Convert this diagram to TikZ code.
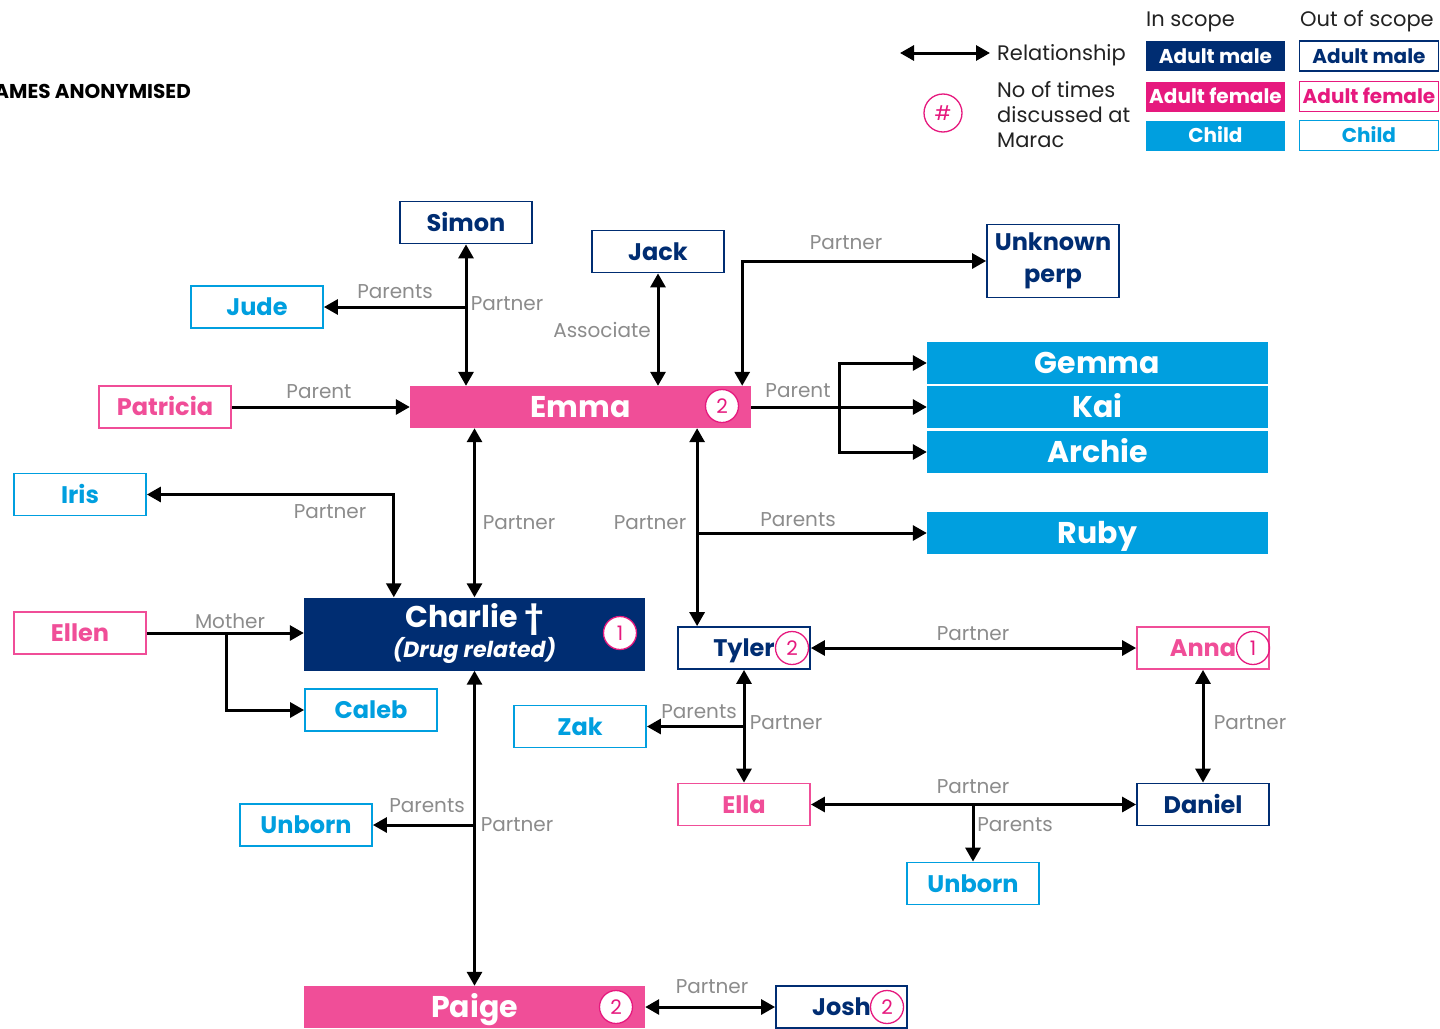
\documentclass[tikz,border=0pt]{standalone}
\usepackage{fontspec}
\setmainfont{Poppins}
\usetikzlibrary{arrows.meta,calc}
\definecolor{navy}{HTML}{002D72}
\definecolor{pinkF}{HTML}{F04E98}
\definecolor{pinkL}{HTML}{E6197E}
\definecolor{cyanC}{HTML}{009FDF}
\definecolor{grayL}{HTML}{8C8C8C}
\definecolor{inkT}{HTML}{222222}
\newcommand{\myfs}[1]{\fontsize{#1}{#1}\selectfont}
\newcommand{\myfsl}[2]{\fontsize{#1}{#2}\selectfont}
\tikzset{
  base/.style={rectangle, inner sep=0pt, minimum width=132pt, minimum height=42pt, font=\bfseries\myfs{24}, line width=1.8pt, text height=22pt, text depth=5pt},
  om/.style={base, draw=navy, text=navy, fill=white},
  of/.style={base, draw=pinkF, text=pinkF, fill=white},
  oc/.style={base, draw=cyanC, text=cyanC, fill=white},
  big/.style={rectangle, inner sep=0pt, minimum width=341pt, minimum height=42pt, text=white, font=\bfseries\myfs{30}, text height=27.6pt, text depth=6.6pt},
  fm/.style={big, fill=navy},
  ff/.style={big, fill=pinkF},
  fc/.style={big, fill=cyanC},
  badge/.style={circle, draw=pinkL, line width=1.3pt, fill=white, text=pinkL, minimum size=33pt, inner sep=0pt, font=\myfs{20}},
  badgeo/.style={badge, fill=none},
  lbl/.style={text=grayL, font=\myfs{20}, inner sep=1pt},
  conn/.style={line width=3pt, draw=black},
  arr/.style={conn, -{Triangle[length=14pt,width=15pt]}},
  dbl/.style={conn, {Triangle[length=14pt,width=15pt]}-{Triangle[length=14pt,width=15pt]}},
  legtxt/.style={text=inkT, font=\myfs{21}, inner sep=0pt, anchor=west, text height=19.3pt, text depth=4.6pt},
  legbox/.style={rectangle, inner sep=0pt, minimum width=139pt, minimum height=30pt, font=\bfseries\myfs{20}, line width=1.8pt, text height=18.4pt, text depth=4.4pt},
}
\begin{document}
\begin{tikzpicture}[x=1pt,y=-1pt]
\useasboundingbox (0,0) rectangle (1440,1028);
\clip (0,0) rectangle (1440,1028);
\fill[white] (0,0) rectangle (1440,1028);

% ---------- legend ----------
\node[text=black, font=\bfseries\myfs{20}, inner sep=0pt, anchor=east, text height=18.4pt, text depth=4.4pt] (title) at (191,91) {NAMES ANONYMISED};
\node[legtxt] (inscope) at (1146,19) {In scope};
\node[legtxt] (outscope) at (1300,19) {Out of scope};
\node[legtxt] (rel) at (997,53) {Relationship};
\draw[dbl] ([xshift=-97pt]rel.west) -- ([xshift=-7pt]rel.west);
\node[legtxt, align=left, font=\myfsl{21}{25}, text height={}, text depth={}] (noof) at (997,115) {No of times\\discussed at\\Marac};
\node[badgeo, minimum size=38pt] (hash) at (943,113) {\#};
\node[legbox, fill=navy, text=white] (lam) at (1215.5,56) {Adult male};
\node[legbox, fill=pinkL, text=white] (laf) at (1215.5,96.5) {Adult female};
\node[legbox, fill=cyanC, text=white] (lac) at (1215.5,135.5) {Child};
\node[legbox, draw=navy, text=navy] (lom) at (1369,56) {Adult male};
\node[legbox, draw=pinkL, text=pinkL] (lof) at (1369,96.5) {Adult female};
\node[legbox, draw=cyanC, text=cyanC] (loc) at (1369,135.5) {Child};

% ---------- people ----------
\node[om] (simon) at (466,222.5) {Simon};
\node[om] (jack) at (658,251.5) {Jack};
\node[om, minimum height=73pt, align=center, font=\bfseries\myfsl{24}{32}, text height={}, text depth={}] (perp) at (1053,261) {Unknown\\perp};
\node[oc] (jude) at (257,307) {Jude};
\node[of] (pat) at (165,407) {Patricia};
\node[ff] (emma) at (580.5,407) {Emma};
\node[fc] (gemma) at (1097.5,363) {Gemma};
\node[fc] (kai) at (1097.5,407) {Kai};
\node[fc] (archie) at (1097.5,452) {Archie};
\node[fc] (ruby) at (1097.5,533) {Ruby};
\node[oc] (iris) at (80,494.5) {Iris};
\node[fm, minimum height=73pt, align=center, text height={}, text depth={}] (charlie) at (474.5,634) {\myfsl{30}{33}Charlie †\\\itshape\myfsl{22}{30}(Drug related)};
\node[of] (ellen) at (80,633) {Ellen};
\node[oc] (caleb) at (371,710) {Caleb};
\node[om] (tyler) at (744,648) {Tyler};
\node[of] (anna) at (1203,648) {Anna};
\node[oc] (zak) at (580,726.5) {Zak};
\node[of] (ella) at (744,804.5) {Ella};
\node[om] (daniel) at (1203,804.5) {Daniel};
\node[oc] (unbornR) at (973,883.5) {Unborn};
\node[oc] (unbornL) at (306,825) {Unborn};
\node[ff] (paige) at (474.5,1007) {Paige};
\node[om, minimum width=131pt] (josh) at (841.5,1007) {Josh};

% ---------- badges ----------
\node[badge] (bemma) at (722,406) {2};
\node[badge] (bcharlie) at (620,633) {1};
\node[badge] (bpaige) at (616,1007) {2};
\node[badgeo] (btyler) at (792,648) {2};
\node[badgeo] (banna) at (1253,648) {1};
\node[badgeo] (bjosh) at (887,1007) {2};

% ---------- connectors ----------
\draw[dbl] (simon.south) -- (simon.south |- emma.north);
\draw[arr] (simon.south |- jude.east) -- (jude.east);
\node[lbl] (l1) at (395,292) {Parents};
\node[lbl] (l2) at (507,304) {Partner};

\draw[dbl] (jack.south) -- (jack.south |- emma.north);
\node[lbl] (l3) at (602,330) {Associate};

\draw[dbl] ([xshift=-9pt]emma.north east) |- (perp.west);
\node[lbl] (l4) at (846,243) {Partner};

\draw[arr] (pat.east) -- (emma.west);
\node[lbl] (l5) at (319,392) {Parent};

\coordinate (kb) at ([xshift=88pt]emma.east);
\draw[arr] (emma.east) -- (kai.west);
\draw[arr] (kb) |- (gemma.west);
\draw[arr] (kb) |- (archie.west);
\node[lbl] (l6) at (798,391) {Parent};

\draw[dbl] (charlie.north) -- (charlie.north |- emma.south);
\node[lbl] (l7) at (519,523) {Partner};

\coordinate (tx) at ([xshift=20pt]tyler.north west);
\draw[dbl] (tx) -- (tx |- emma.south);
\draw[arr] (tx |- ruby.west) -- (ruby.west);
\node[lbl] (l8) at (650,523) {Partner};
\node[lbl] (l9) at (798,520) {Parents};

\draw[dbl] (iris.east) -| ([xshift=90pt]charlie.north west);
\node[lbl] (l10) at (330,512) {Partner};

\coordinate (eb) at ([xshift=80pt]ellen.east);
\draw[arr] (ellen.east) -- (ellen.east -| charlie.west);
\draw[arr] (eb) |- (caleb.west);
\node[lbl] (l11) at (230,621) {Mother};

\draw[dbl] (charlie.south) -- (paige.north);
\draw[arr] (charlie.south |- unbornL.east) -- (unbornL.east);
\node[lbl] (l12) at (427,806) {Parents};
\node[lbl] (l13) at (517,825) {Partner};

\draw[dbl] (tyler.east) -- (anna.west);
\node[lbl] (l14) at (973,634) {Partner};

\draw[dbl] (tyler.south) -- (ella.north);
\draw[arr] (tyler.south |- zak.east) -- (zak.east);
\node[lbl] (l15) at (699,712) {Parents};
\node[lbl] (l16) at (786,723) {Partner};

\draw[dbl] (anna.south) -- (daniel.north);
\node[lbl] (l17) at (1250,723) {Partner};

\draw[dbl] (ella.east) -- (daniel.west);
\draw[arr] (unbornR.north |- ella.east) -- (unbornR.north);
\node[lbl] (l18) at (973,787) {Partner};
\node[lbl] (l19) at (1015,825) {Parents};

\draw[dbl] (paige.east) -- (josh.west);
\node[lbl] (l20) at (712,987) {Partner};
\end{tikzpicture}
\end{document}
